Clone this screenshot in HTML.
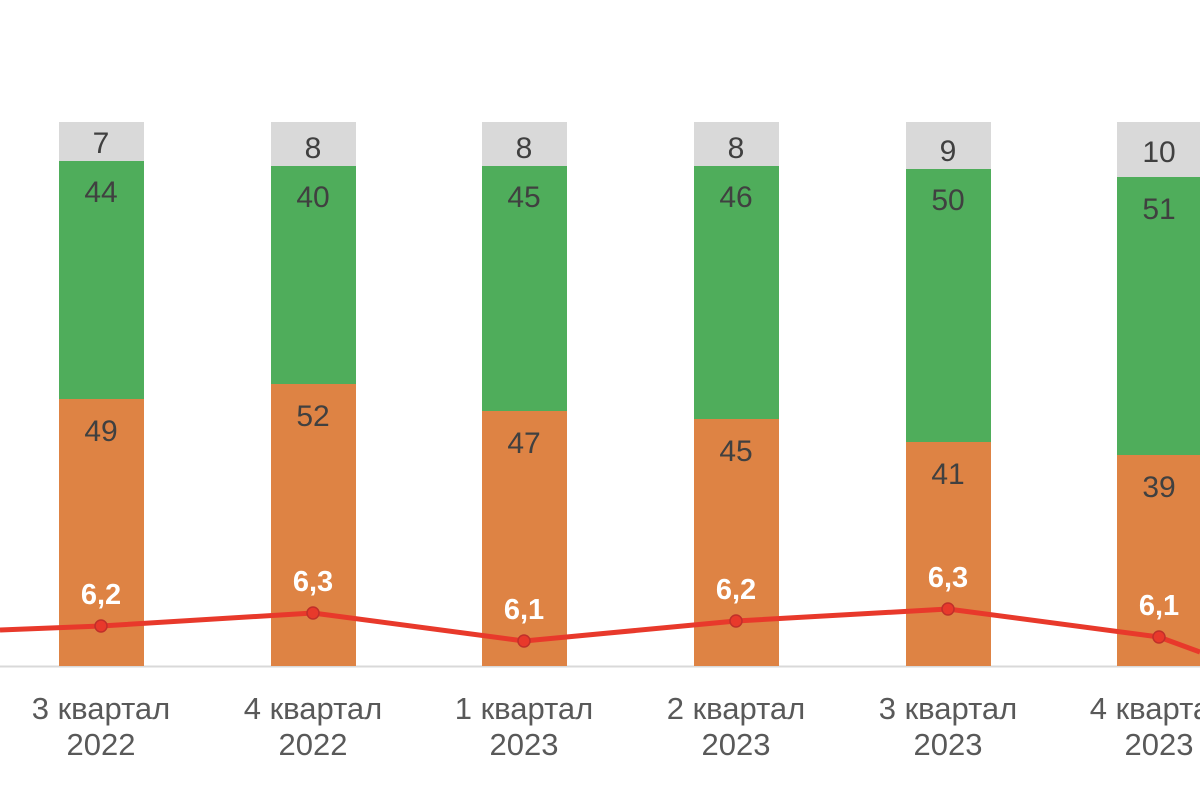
<!DOCTYPE html>
<html><head><meta charset="utf-8"><style>
html,body{margin:0;padding:0;background:#fff;}
svg{display:block}
</style></head><body>
<svg width="1200" height="800" viewBox="0 0 1200 800" xmlns="http://www.w3.org/2000/svg" font-family="Liberation Sans, Arial, sans-serif">
<line x1="0" y1="666.5" x2="1200" y2="666.5" stroke="#d9d9d9" stroke-width="2"/>
<g>
<rect x="59" y="122" width="85" height="39" fill="#d9d9d9"/>
<rect x="59" y="161" width="85" height="238" fill="#4fad5b"/>
<rect x="59" y="399" width="85" height="267" fill="#de8344"/>
<rect x="271" y="122" width="85" height="44" fill="#d9d9d9"/>
<rect x="271" y="166" width="85" height="218" fill="#4fad5b"/>
<rect x="271" y="384" width="85" height="282" fill="#de8344"/>
<rect x="482" y="122" width="85" height="44" fill="#d9d9d9"/>
<rect x="482" y="166" width="85" height="245" fill="#4fad5b"/>
<rect x="482" y="411" width="85" height="255" fill="#de8344"/>
<rect x="694" y="122" width="85" height="44" fill="#d9d9d9"/>
<rect x="694" y="166" width="85" height="253" fill="#4fad5b"/>
<rect x="694" y="419" width="85" height="247" fill="#de8344"/>
<rect x="906" y="122" width="85" height="47" fill="#d9d9d9"/>
<rect x="906" y="169" width="85" height="273" fill="#4fad5b"/>
<rect x="906" y="442" width="85" height="224" fill="#de8344"/>
<rect x="1117" y="122" width="85" height="55" fill="#d9d9d9"/>
<rect x="1117" y="177" width="85" height="278" fill="#4fad5b"/>
<rect x="1117" y="455" width="85" height="211" fill="#de8344"/>
</g>
<g font-size="30" fill="#404040" text-anchor="middle">
<text x="101" y="153">7</text><text x="101" y="202">44</text><text x="101" y="441">49</text>
<text x="313" y="158">8</text><text x="313" y="207">40</text><text x="313" y="426">52</text>
<text x="524" y="158">8</text><text x="524" y="207">45</text><text x="524" y="453">47</text>
<text x="736" y="158">8</text><text x="736" y="207">46</text><text x="736" y="461">45</text>
<text x="948" y="161">9</text><text x="948" y="210">50</text><text x="948" y="484">41</text>
<text x="1159" y="162">10</text><text x="1159" y="219">51</text><text x="1159" y="497">39</text>
</g>
<polyline points="0,630 101,626 313,613 524,641 736,621 948,609 1159,637 1200,652" fill="none" stroke="#e8392b" stroke-width="5" stroke-linejoin="round"/>
<g fill="#e8392b" stroke="#c0302a" stroke-width="1.5">
<circle cx="101" cy="626" r="6"/><circle cx="313" cy="613" r="6"/><circle cx="524" cy="641" r="6"/>
<circle cx="736" cy="621" r="6"/><circle cx="948" cy="609" r="6"/><circle cx="1159" cy="637" r="6"/>
</g>
<g font-size="29" font-weight="bold" fill="#fff" text-anchor="middle">
<text x="101" y="604">6,2</text><text x="313" y="591">6,3</text><text x="524" y="619">6,1</text>
<text x="736" y="599">6,2</text><text x="948" y="587">6,3</text><text x="1159" y="615">6,1</text>
</g>
<g font-size="31" fill="#595959" text-anchor="middle">
<text x="101" y="719">3 квартал</text><text x="101" y="755">2022</text>
<text x="313" y="719">4 квартал</text><text x="313" y="755">2022</text>
<text x="524" y="719">1 квартал</text><text x="524" y="755">2023</text>
<text x="736" y="719">2 квартал</text><text x="736" y="755">2023</text>
<text x="948" y="719">3 квартал</text><text x="948" y="755">2023</text>
<text x="1159" y="719">4 квартал</text><text x="1159" y="755">2023</text>
</g>
</svg>
</body></html>
